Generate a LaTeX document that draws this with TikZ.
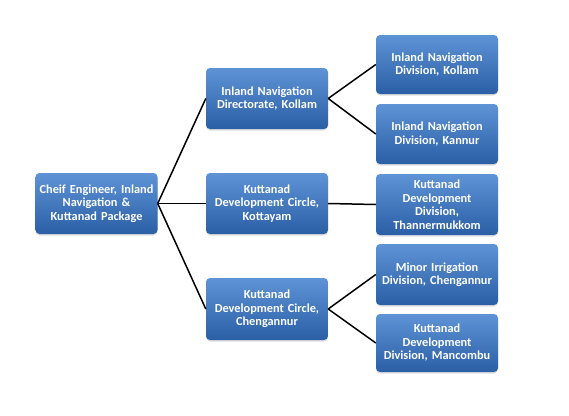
\documentclass[tikz,border=0pt]{standalone}
\usepackage{fontspec}
\setmainfont{Carlito}[BoldFont={* Bold}]
\usetikzlibrary{shadows}
\definecolor{boxtop}{HTML}{5E93D6}
\definecolor{boxbot}{HTML}{2A5FA6}
\tikzset{
	unit/.style={rectangle,rounded corners=4pt,top color=boxtop,bottom color=boxbot,draw=none,
		text=white,font=\fontsize{12.3}{13.5}\selectfont\bfseries,align=center,
		text width=120pt,minimum width=122pt,minimum height=60pt,inner sep=1pt,
		drop shadow={opacity=0.25,shadow xshift=0pt,shadow yshift=-1.5pt}},
	link/.style={line width=1.5pt,black}
}
\begin{document}
\begin{tikzpicture}[x=1pt,y=-1pt,line join=round]
	%==Phần thông số
	\def\xa{96.5}
	\def\xb{267}
	\def\xc{437}
	%==============
	\useasboundingbox (0,0) rectangle (569,415);
	\node[unit,minimum width=121pt,minimum height=61pt] (CE) at (\xa,203.5) {Cheif Engineer, Inland\\Navigation \&\\Kuttanad Package};
	\node[unit,minimum height=61pt] (IND) at (\xb,98.5) {Inland Navigation\\Directorate, Kollam};
	\node[unit,minimum height=61pt] (KDK) at (\xb,203.5) {Kuttanad\\Development Circle,\\Kottayam};
	\node[unit,minimum height=62pt] (KDC) at (\xb,309) {Kuttanad\\Development Circle,\\Chengannur};
	\node[unit,minimum height=59pt] (INK) at (\xc,64.5) {Inland Navigation\\Division, Kollam};
	\node[unit] (INC) at (\xc,134) {Inland Navigation\\Division, Kannur};
	\node[unit,minimum height=61pt] (KDT) at (\xc,204.5) {Kuttanad\\Development\\Division,\\Thannermukkom};
	\node[unit,minimum height=61pt] (MID) at (\xc,274.5) {Minor Irrigation\\Division, Chengannur};
	\node[unit,minimum height=58pt] (KDM) at (\xc,343) {Kuttanad\\Development\\Division, Mancombu};
	\foreach \i in {IND,KDK,KDC}{\draw[link] (CE.east)--(\i.west);}
	\draw[link] (IND.east)--(INK.west) (IND.east)--(INC.west);
	\draw[link] (KDK.east)--(KDT.west);
	\draw[link] (KDC.east)--(MID.west) (KDC.east)--(KDM.west);
\end{tikzpicture}
\end{document}
